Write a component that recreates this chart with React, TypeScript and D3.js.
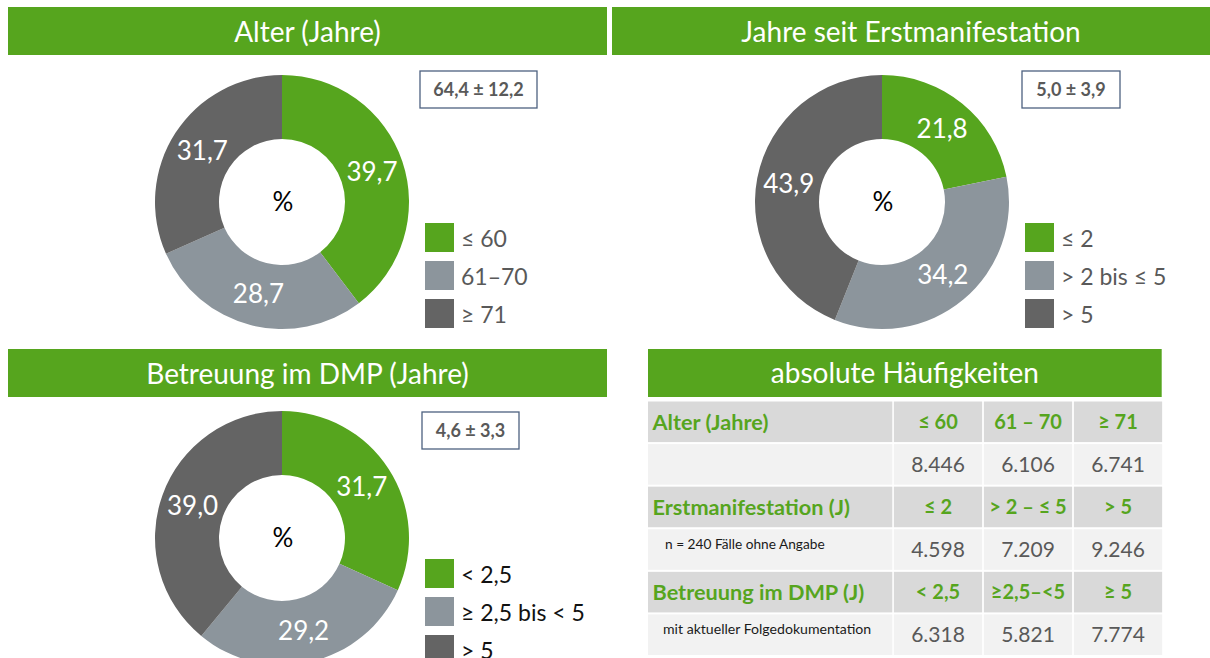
import React from "react";
import * as d3 from "d3";

// ---------- data ----------
const panelTitles = ["Alter (Jahre)", "Jahre seit Erstmanifestation", "Betreuung im DMP (Jahre)"];

const ageLabels = ["≤ 60", "61–70", "≥ 71"];
const ageValues = [39.7, 28.7, 31.7];
const ageStat = "64,4 ± 12,2";

const onsetLabels = ["≤ 2", "> 2 bis ≤ 5", "> 5"];
const onsetValues = [21.8, 34.2, 43.9];
const onsetStat = "5,0 ± 3,9";

const dmpLabels = ["< 2,5", "≥ 2,5 bis < 5", "> 5"];
const dmpValues = [31.7, 29.2, 39.0];
const dmpStat = "4,6 ± 3,3";

const centerLabel = "%";

const tableTitle = "absolute Häufigkeiten";
const tableGroups = ["Alter (Jahre)", "Erstmanifestation (J)", "Betreuung im DMP (J)"];
const tableHeaders = [
  ["≤ 60", "61 – 70", "≥ 71"],
  ["≤ 2", "> 2 – ≤ 5", "> 5"],
  ["< 2,5", "≥2,5–<5", "≥ 5"],
];
const tableNotes = ["", "n = 240 Fälle ohne Angabe", "mit aktueller Folgedokumentation"];
const tableCounts = [
  [8446, 6106, 6741],
  [4598, 7209, 9246],
  [6318, 5821, 7774],
];

// ---------- style ----------
const GREEN = "#56a51e";
const LIGHT = "#8c959c";
const DARK = "#646464";
const TEXT_GRAY = "#595959";
const FONT = "Lato, 'Open Sans', 'DejaVu Sans', sans-serif";

const de = d3.formatLocale({ decimal: ",", thousands: ".", grouping: [3], currency: ["", " €"] });
const fmtPct = de.format(".1f");
const fmtCount = de.format(",d");

const color = d3.scaleOrdinal<number, string>().domain([0, 1, 2]).range([GREEN, LIGHT, DARK]);

const panels = [
  {
    title: panelTitles[0], labels: ageLabels, values: ageValues, stat: ageStat,
    bar: { x: 8, y: 7, w: 599 }, cx: 282, cy: 202,
    box: { x: 420, y: 71, w: 117, h: 37 }, legend: { x: 425, y: 223 }, legendColor: TEXT_GRAY,
  },
  {
    title: panelTitles[1], labels: onsetLabels, values: onsetValues, stat: onsetStat,
    bar: { x: 612, y: 7, w: 598 }, cx: 882, cy: 202,
    box: { x: 1022, y: 71, w: 98, h: 37 }, legend: { x: 1025, y: 223 }, legendColor: TEXT_GRAY,
  },
  {
    title: panelTitles[2], labels: dmpLabels, values: dmpValues, stat: dmpStat,
    bar: { x: 8, y: 349, w: 599 }, cx: 282, cy: 538,
    box: { x: 422, y: 412, w: 97, h: 37 }, legend: { x: 425, y: 559 }, legendColor: "#111111",
  },
];

const R_OUT = 127;
const R_IN = 63;

function Donut({ p }: { p: (typeof panels)[number] }) {
  const pie = d3.pie<number>().sort(null).value((d) => d);
  const arcs = pie(p.values);
  const arc = d3.arc<d3.PieArcDatum<number>>().innerRadius(R_IN).outerRadius(R_OUT);
  return (
    <g>
      <rect x={p.bar.x} y={p.bar.y} width={p.bar.w} height={48} fill={GREEN} />
      <text x={p.bar.x + p.bar.w / 2} y={p.bar.y + 35} textAnchor="middle" fill="#fff" fontSize={28} fontFamily={FONT}>
        {p.title}
      </text>
      <g transform={`translate(${p.cx},${p.cy})`}>
        {arcs.map((a, i) => (
          <path key={i} d={arc(a) || ""} fill={color(i)} />
        ))}
        {arcs.map((a, i) => {
          const [x, y] = arc.centroid(a);
          return (
            <text key={"l" + i} x={x} y={y} dy="0.36em" textAnchor="middle" fill="#fff" fontSize={26} fontFamily={FONT}>
              {fmtPct(a.data)}
            </text>
          );
        })}
        <text x={1} y={0} dy="0.36em" textAnchor="middle" fill="#000" fontSize={26} fontFamily={FONT}>
          {centerLabel}
        </text>
      </g>
      <rect x={p.box.x} y={p.box.y} width={p.box.w} height={p.box.h} fill="#fff" stroke="#4d6180" strokeWidth={1.3} />
      <text x={p.box.x + p.box.w / 2} y={p.box.y + p.box.h / 2} dy="0.36em" textAnchor="middle" fill={TEXT_GRAY} fontSize={18} fontWeight="bold" fontFamily={FONT}>
        {p.stat}
      </text>
      {p.labels.map((l, i) => (
        <g key={"lg" + i} transform={`translate(${p.legend.x},${p.legend.y + i * 38})`}>
          <rect width={29} height={29} fill={color(i)} />
          <text x={36} y={23.5} fill={p.legendColor} fontSize={23} fontFamily={FONT}>
            {l}
          </text>
        </g>
      ))}
    </g>
  );
}

function Table() {
  const left = 648;
  const col0End = 892.3;
  const colScale = d3.scaleBand<number>().domain([0, 1, 2]).range([893, 1163]).paddingInner(0.019).paddingOuter(0.0095);
  const rowScale = d3.scaleBand<number>().domain(d3.range(6)).range([400.5, 656]).paddingInner(0.047).paddingOuter(0.0235);
  const rows: React.ReactNode[] = [];
  tableGroups.forEach((g, gi) => {
    const hr = gi * 2;
    const vr = gi * 2 + 1;
    const hy = rowScale(hr)!;
    const vy = rowScale(vr)!;
    const bh = rowScale.bandwidth();
    rows.push(
      <g key={"g" + gi}>
        <rect x={left} y={hy} width={col0End - left} height={bh} fill="#d9d9d9" />
        <text x={652.5} y={hy + bh / 2} dy="0.36em" fill={GREEN} fontWeight="bold" fontSize={21.7} fontFamily={FONT}>
          {g}
        </text>
        {tableHeaders[gi].map((h, ci) => (
          <g key={"h" + ci}>
            <rect x={colScale(ci)} y={hy} width={colScale.bandwidth()} height={bh} fill="#d9d9d9" />
            <text x={colScale(ci)! + colScale.bandwidth() / 2} y={hy + bh / 2} dy="0.36em" textAnchor="middle" fill={GREEN} fontWeight="bold" fontSize={20} fontFamily={FONT}>
              {h}
            </text>
          </g>
        ))}
        <rect x={left} y={vy} width={col0End - left} height={bh} fill="#f2f2f2" />
        {tableNotes[gi] && (
          <text x={gi === 1 ? 665 : 663} y={vy + 19.5} fill="#1a1a1a" fontSize={gi === 1 ? 13.7 : 14.1} fontFamily={FONT}>
            {tableNotes[gi]}
          </text>
        )}
        {tableCounts[gi].map((v, ci) => (
          <g key={"v" + ci}>
            <rect x={colScale(ci)} y={vy} width={colScale.bandwidth()} height={bh} fill="#f2f2f2" />
            <text x={colScale(ci)! + colScale.bandwidth() / 2} y={vy + bh / 2} dy="0.36em" textAnchor="middle" fill={TEXT_GRAY} fontSize={21} fontFamily={FONT}>
              {fmtCount(v)}
            </text>
          </g>
        ))}
      </g>
    );
  });
  return (
    <g>
      <rect x={left} y={349} width={1161.7 - left} height={48} fill={GREEN} />
      <text x={(left + 1161.7) / 2} y={349 + 34} textAnchor="middle" fill="#fff" fontSize={28} fontFamily={FONT}>
        {tableTitle}
      </text>
      {rows}
    </g>
  );
}

export default function App() {
  return (
    <div style={{ position: "absolute", left: 0, top: 0 }}>
      <svg width={1210} height={658} viewBox="0 0 1210 658" style={{ display: "block", background: "#fff" }}>
        {panels.map((p, i) => (
          <Donut key={i} p={p} />
        ))}
        <Table />
      </svg>
    </div>
  );
}
